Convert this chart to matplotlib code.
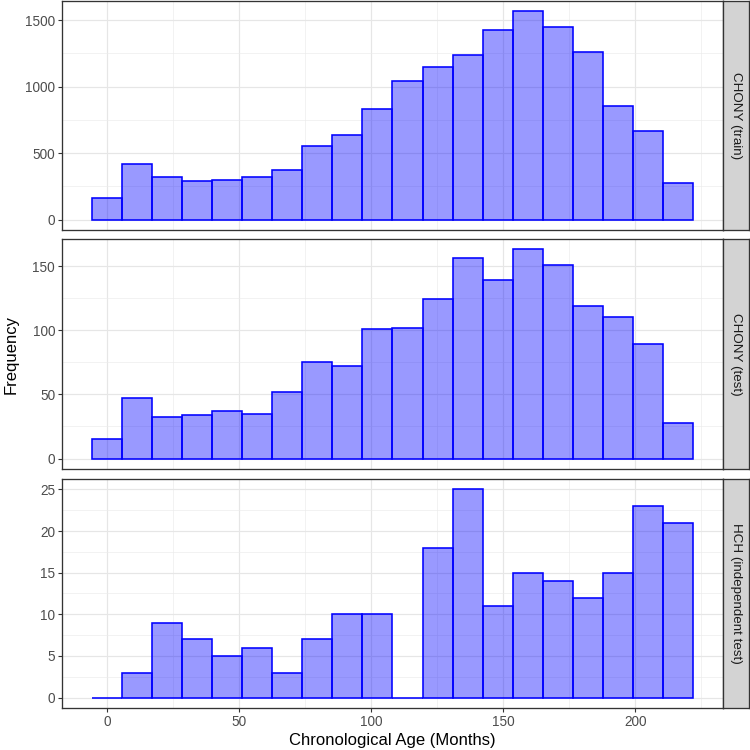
import numpy as np
import matplotlib.pyplot as plt
from matplotlib.ticker import MultipleLocator

plt.rcParams['font.family'] = ['Liberation Sans', 'DejaVu Sans']

# histogram layout (20 bins, centred from 0 to ~216 months)
age_min = 0.0
age_max = 216.2
n_bins = 20

panels = ["CHONY (train)", "CHONY (test)", "HCH (independent test)"]
train_counts = [163, 420, 320, 290, 300, 322, 375, 550, 635, 830,
                1045, 1150, 1235, 1425, 1570, 1449, 1260, 857, 670, 272]
test_counts = [15, 47, 32, 34, 37, 35, 52, 75, 72, 101,
               102, 124, 156, 139, 163, 151, 119, 110, 89, 28]
hch_counts = [0, 3, 9, 7, 5, 6, 3, 7, 10, 10,
              0, 18, 25, 11, 15, 14, 12, 15, 23, 21]
y_major = [500, 50, 5]

bin_w = (age_max - age_min) / (n_bins - 1)
centers = age_min + bin_w * np.arange(n_bins)
x_lo = centers[0] - bin_w / 2
x_hi = centers[-1] + bin_w / 2
x_pad = 0.05 * (x_hi - x_lo)

grey20 = '#333333'
fig = plt.figure(figsize=(7.5, 7.5), dpi=100)

# panel boxes in pixels (top, bottom)
boxes = [(0.5, 230), (239, 469), (479, 708)]
left, right, strip_r = 62, 723, 749

all_counts = [train_counts, test_counts, hch_counts]
for i, (name, counts) in enumerate(zip(panels, all_counts)):
    top, bot = boxes[i]
    ax = fig.add_axes([left / 750, 1 - bot / 750, (right - left) / 750, (bot - top) / 750])
    ax.bar(centers, counts, width=bin_w, color='#0000FF', alpha=0.4, linewidth=0, zorder=2)
    ax.bar(centers, counts, width=bin_w, fill=False, edgecolor='#0000FF', linewidth=1.15, zorder=3)
    ymax = max(counts)
    ax.set_ylim(-0.05 * ymax, 1.05 * ymax)
    ax.set_xlim(x_lo - x_pad, x_hi + x_pad)
    ax.xaxis.set_major_locator(MultipleLocator(50))
    ax.xaxis.set_minor_locator(MultipleLocator(25))
    ax.yaxis.set_major_locator(MultipleLocator(y_major[i]))
    ax.yaxis.set_minor_locator(MultipleLocator(y_major[i] / 2))
    ax.grid(which='major', color='#E6E6E6', linewidth=0.85, zorder=0)
    ax.grid(which='minor', color='#EBEBEB', linewidth=0.45, zorder=0)
    ax.set_axisbelow(True)
    for s in ax.spines.values():
        s.set_color(grey20)
        s.set_linewidth(0.95)
    ax.tick_params(axis='both', which='major', length=3, width=0.8, color=grey20,
                   labelsize=9.8, labelcolor='#4D4D4D', pad=2)
    ax.tick_params(axis='both', which='minor', length=0)
    if i < 2:
        ax.tick_params(axis='x', which='both', length=0, labelbottom=False)

    # facet strip on the right
    st = fig.add_axes([right / 750, 1 - bot / 750, (strip_r - right) / 750, (bot - top) / 750])
    st.set_facecolor('#D3D3D3')
    st.set_xticks([])
    st.set_yticks([])
    for s in st.spines.values():
        s.set_color(grey20)
        s.set_linewidth(0.95)
    st.text(0.5, 0.5, name, rotation=-90, ha='center', va='center',
            fontsize=9.6, color='#1A1A1A', transform=st.transAxes)

fig.text(392 / 750, 1 - 740 / 750, 'Chronological Age (Months)', ha='center', va='center',
         fontsize=12, color='black')
fig.text(11 / 750, 1 - 354 / 750, 'Frequency', ha='center', va='center', rotation=90,
         fontsize=12, color='black')

fig.savefig('out.png', dpi=100)
